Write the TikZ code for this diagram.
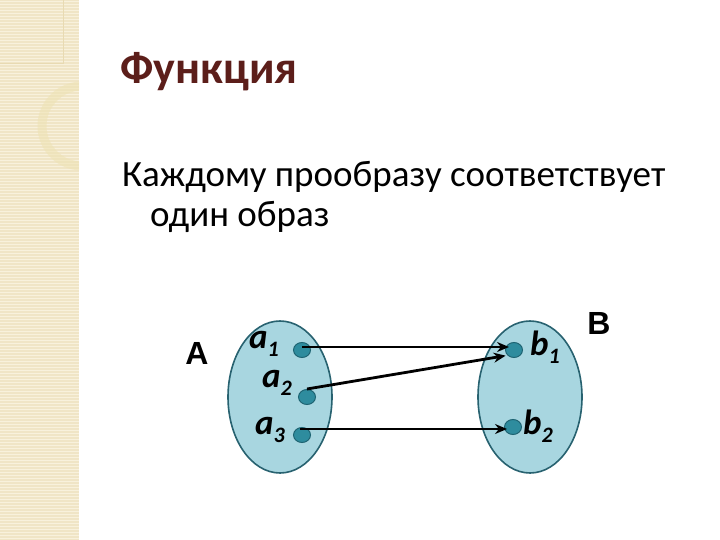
\documentclass[tikz,border=0pt]{standalone}
\usepackage{fontspec}
\setmainfont{Carlito}
\newfontfamily\arialf{Liberation Sans}
\usetikzlibrary{arrows.meta,shapes.geometric}
\definecolor{strip}{RGB}{240,229,198}
\definecolor{stripline}{RGB}{248,241,220}
\definecolor{stripdeco}{RGB}{232,218,178}
\definecolor{ringcol}{RGB}{238,226,180}
\definecolor{titlecol}{RGB}{92,30,26}
\definecolor{setfill}{RGB}{168,214,224}
\definecolor{setdraw}{RGB}{40,98,112}
\definecolor{dotfill}{RGB}{46,140,158}
\definecolor{dotdraw}{RGB}{30,100,115}
\tikzset{
  setel/.style={ellipse, draw=setdraw, line width=1.6pt, fill=setfill, minimum width=104pt, minimum height=152pt, inner sep=0pt},
  elem/.style={ellipse, draw=dotdraw, line width=1pt, fill=dotfill, minimum width=17pt, minimum height=15pt, inner sep=0pt},
  arr/.style={line width=2.8pt, -{Stealth[length=12pt,width=10pt]}},
  lab/.style={font=\fontsize{35}{35}\selectfont\bfseries\itshape, inner sep=0pt, anchor=base west},
  setname/.style={font=\arialf\bfseries\fontsize{32}{32}\selectfont, inner sep=0pt},
}
\newcommand{\subx}[1]{\raisebox{-8pt}{\fontsize{22}{22}\selectfont\bfseries #1}}
\begin{document}
\begin{tikzpicture}[x=1pt,y=-1pt]
\useasboundingbox (0,0) rectangle (720,540);
% left decorative strip
\fill[strip] (0,0) rectangle (79,540);
\foreach \yy in {1,4,...,538} {\fill[stripline] (0,\yy) rectangle (79,\yy+1.2);}
\begin{scope}
\clip (0,0) rectangle (79,540);
\draw[stripdeco, line width=0.8pt] (0,63) -- (63,63) -- (63,0);
\draw[stripline, line width=2pt] (66,0) arc[start angle=0, end angle=-75, radius=62];
\draw[ringcol, line width=9pt, opacity=0.6] (82,126) circle[radius=40];
\end{scope}
% title and text
\node[anchor=base west, inner sep=0pt, text=titlecol, font=\fontsize{46}{46}\selectfont\bfseries] (title) at (120,84) {Функция};
\node[anchor=base west, inner sep=0pt, font=\fontsize{37}{37}\selectfont] (line1) at (122,187) {Каждому прообразу соответствует};
\node[anchor=base west, inner sep=0pt, font=\fontsize{37}{37}\selectfont] (line2) at (150,226) {один образ};
% sets
\node[setel] (A) at (280,397) {};
\node[setel] (B) at (530,397) {};
\node[setname] (Alab) at (197,353) {A};
\node[setname] (Blab) at (599,323) {B};
% elements
\node[elem] (a1) at (302,350) {};
\node[elem] (a2) at (307,397) {};
\node[elem] (a3) at (302,435) {};
\node[elem] (b1) at (514,350) {};
\node[elem] (b2) at (513,427) {};
% labels
\node[lab] (la1) at (249,348) {a\subx{1}};
\node[lab] (la2) at (262,387) {a\subx{2}};
\node[lab] (la3) at (255,434) {a\subx{3}};
\node[lab] (lb1) at (530,355) {b\subx{1}};
\node[lab] (lb2) at (523,434) {b\subx{2}};
% arrows
\draw[arr] ([yshift=3pt]a1.center) -- ([xshift=4pt,yshift=3pt]b1.west);
\draw[arr] (a2.north) -- ([xshift=-2pt]b1.south west);
\draw[arr] ([xshift=-2pt,yshift=6pt]a3.center) -- ([xshift=3pt,yshift=-2pt]b2.west);
\end{tikzpicture}
\end{document}
